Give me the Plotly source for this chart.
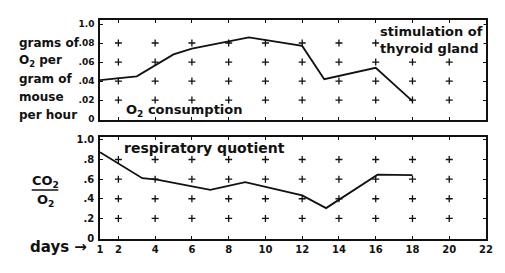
import plotly.graph_objects as go

# --- data ---
o2_days = [1, 3, 5, 6, 9.1, 10, 12, 13.2, 16, 18]
o2_values = [0.041, 0.045, 0.068, 0.074, 0.086, 0.083, 0.077, 0.042, 0.054, 0.019]

rq_days = [1, 3.3, 4.1, 4.9, 7, 8.9, 10, 12, 13.3, 16.1, 18]
rq_values = [0.875, 0.61, 0.595, 0.567, 0.49, 0.57, 0.52, 0.434, 0.305, 0.646, 0.64]

x_tickvals = [1, 2, 4, 6, 8, 10, 12, 14, 16, 18, 20, 22]
x_ticktext = ["1", "2", "4", "6", "8", "10", "12", "14", "16", "18", "20", "22"]
cross_days = [2, 4, 6, 8, 10, 12, 14, 16, 18, 20]

top_tickvals = [0, 0.02, 0.04, 0.06, 0.08, 0.10]
top_ticktext = ["0", ".02", ".04", ".06", ".08", "1.0"]
bot_tickvals = [0, 0.2, 0.4, 0.6, 0.8, 1.0]
bot_ticktext = ["0", ".2", ".4", ".6", ".8", "1.0"]

FONT = "DejaVu Sans"
INK = "#111111"

fig = go.Figure()

# crosses grid
top_cross_vals = top_tickvals[1:-1]
bot_cross_vals = bot_tickvals[1:-1]
cross_marker = dict(symbol="cross-thin", size=5, line=dict(color=INK, width=1.3))
fig.add_trace(go.Scatter(
    x=[d for d in cross_days for _ in top_cross_vals],
    y=[v for _ in cross_days for v in top_cross_vals],
    mode="markers", xaxis="x", yaxis="y", marker=cross_marker,
    showlegend=False, hoverinfo="skip"))
fig.add_trace(go.Scatter(
    x=[d for d in cross_days for _ in bot_cross_vals],
    y=[v for _ in cross_days for v in bot_cross_vals],
    mode="markers", xaxis="x2", yaxis="y2", marker=cross_marker,
    showlegend=False, hoverinfo="skip"))

# lines
fig.add_trace(go.Scatter(x=o2_days, y=o2_values, mode="lines", xaxis="x", yaxis="y",
                         line=dict(color=INK, width=1.8), showlegend=False))
fig.add_trace(go.Scatter(x=rq_days, y=rq_values, mode="lines", xaxis="x2", yaxis="y2",
                         line=dict(color=INK, width=1.8), showlegend=False))

axis_common = dict(showgrid=False, zeroline=False, showline=True, linecolor=INK,
                   linewidth=1.5, mirror="ticks", ticks="inside", ticklen=3,
                   tickcolor=INK, tickwidth=1.2)

def bold(lst):
    return ["<b>" + t + "</b>" for t in lst]

fig.update_layout(
    width=505, height=273,
    margin=dict(l=100, r=16, t=20, b=34),
    paper_bgcolor="white", plot_bgcolor="white",
    font=dict(family=FONT, color=INK),
    xaxis=dict(domain=[0, 1], range=[1, 22], anchor="y", tickvals=x_tickvals,
               showticklabels=False, **axis_common),
    yaxis=dict(domain=[0.543, 1], range=[-0.001, 0.1042], tickvals=top_tickvals,
               ticktext=bold(top_ticktext), tickfont=dict(size=9, family=FONT),
               ticklabelstandoff=2, **axis_common),
    xaxis2=dict(domain=[0, 1], range=[1, 22], anchor="y2", tickvals=x_tickvals,
                ticktext=bold(x_ticktext), tickfont=dict(size=10, family=FONT),
                **axis_common),
    yaxis2=dict(domain=[0, 0.466], range=[-0.01, 1.03], anchor="x2",
                tickvals=bot_tickvals, ticktext=bold(bot_ticktext),
                tickfont=dict(size=10, family=FONT), ticklabelstandoff=2, **axis_common),
)

ann = []
left_lines = ["grams of", "O<sub>2</sub> per", "gram of", "mouse", "per hour"]
for i, t in enumerate(left_lines):
    ann.append(dict(text="<b>" + t + "</b>", xref="paper", yref="paper",
                    x=-0.215, xanchor="left", y=1 - (23 + 18 * i) / 219,
                    yanchor="middle", showarrow=False, font=dict(size=12)))
ann.append(dict(text="<b>stimulation of<br>thyroid gland</b>", xref="paper", yref="paper",
                x=0.995, xanchor="right", y=1 - 3 / 219, yanchor="top", align="left",
                showarrow=False, font=dict(size=13), bgcolor="white", borderpad=0))
ann.append(dict(text="<b>O<sub>2</sub> consumption</b>", xref="x", yref="y",
                x=2.3, xanchor="left", y=0.009, yanchor="middle", showarrow=False,
                font=dict(size=13)))
ann.append(dict(text="<b>respiratory quotient</b>", xref="x2", yref="y2",
                x=2.2, xanchor="left", y=0.915, yanchor="middle", showarrow=False,
                font=dict(size=14)))
ann.append(dict(text="<b>CO<sub>2</sub></b>", xref="paper", yref="paper",
                x=-0.141, xanchor="center", y=(239 - 181) / 219, yanchor="middle",
                showarrow=False, font=dict(size=13)))
ann.append(dict(text="<b>O<sub>2</sub></b>", xref="paper", yref="paper",
                x=-0.141, xanchor="center", y=(239 - 200) / 219, yanchor="middle",
                showarrow=False, font=dict(size=13)))
ann.append(dict(text="<b>days →</b>", xref="paper", yref="paper",
                x=-0.028, xanchor="right", y=(239 - 247) / 219, yanchor="middle",
                showarrow=False, font=dict(size=15)))
fig.update_layout(annotations=ann)

fig.add_shape(type="line", xref="paper", yref="paper",
              x0=-0.177, x1=-0.108, y0=(239 - 190) / 219, y1=(239 - 190) / 219,
              line=dict(color=INK, width=1.5))

fig.write_html("out.html")
